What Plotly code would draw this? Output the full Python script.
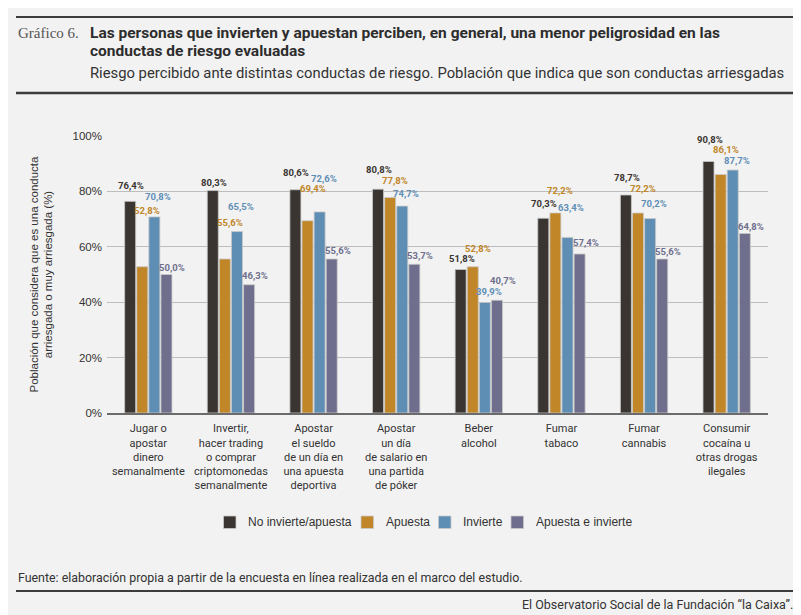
import plotly.graph_objects as go

# datos del gráfico
categorias = [
    "Jugar o<br>apostar<br>dinero<br>semanalmente",
    "Invertir,<br>hacer trading<br>o comprar<br>criptomonedas<br>semanalmente",
    "Apostar<br>el sueldo<br>de un día en<br>una apuesta<br>deportiva",
    "Apostar<br>un día<br>de salario en<br>una partida<br>de póker",
    "Beber<br>alcohol",
    "Fumar<br>tabaco",
    "Fumar<br>cannabis",
    "Consumir<br>cocaína u<br>otras drogas<br>ilegales",
]
series = ["No invierte/apuesta", "Apuesta", "Invierte", "Apuesta e invierte"]
no_invierte = [76.4, 80.3, 80.6, 80.8, 51.8, 70.3, 78.7, 90.8]
apuesta = [52.8, 55.6, 69.4, 77.8, 52.8, 72.2, 72.2, 86.1]
invierte = [70.8, 65.5, 72.6, 74.7, 39.9, 63.4, 70.2, 87.7]
apuesta_invierte = [50.0, 46.3, 55.6, 53.7, 40.7, 57.4, 55.6, 64.8]
valores = [no_invierte, apuesta, invierte, apuesta_invierte]
y_ticks = [0, 20, 40, 60, 80, 100]

colores = ["#3a3531", "#c08628", "#5f8eb5", "#6f6f8d"]

# altura de las etiquetas (escalonadas como en el original)
label_y = [
    [82.0, 83.1, 87.0, 88.0, 55.6, 75.7, 84.9, 98.9],
    [73.0, 68.6, 81.0, 83.9, 59.3, 80.3, 81.0, 95.2],
    [78.1, 74.5, 84.6, 79.3, 44.0, 74.1, 75.7, 91.1],
    [52.5, 49.8, 58.6, 57.0, 47.8, 61.5, 58.2, 67.5],
]

# la pagina deja 8px de margen en el body
OFF = 8
W, H = 801 - OFF, 615 - OFF
L, R, T, B = 107, 768, 136, 413  # area del grafico en px (coordenadas de la ventana)


def px(x):
    return (x - L) / (R - L)


def py(y):
    return (B - y) / (B - T)


COND = "Roboto, sans-serif"
SANS = "Liberation Sans, Arial, sans-serif"

fig = go.Figure()
for nombre, vals, col in zip(series, valores, colores):
    fig.add_trace(go.Bar(
        name=nombre, x=categorias, y=vals,
        marker=dict(color=col, line=dict(color="#c9c9c9", width=0.8)),
        hoverinfo="y+name", showlegend=False,
    ))

slot = 12.1
extra = [1, 5, 4, 6]
anns = []
for i, (vals, col) in enumerate(zip(valores, colores)):
    for j, v in enumerate(vals):
        anns.append(dict(
            x=categorias[j], y=label_y[i][j], xref="x", yref="y",
            text=f"{v:.1f}%".replace(".", ","), showarrow=False,
            xshift=(i - 1.5) * slot + extra[i], yanchor="middle",
            font=dict(family=COND, size=9.5, color=col, weight="bold"),
        ))

# eje y titulo
anns.append(dict(
    x=px(41), y=0.5, xref="paper", yref="paper", textangle=-90,
    xanchor="center", yanchor="middle",
    text="Población que considera que es una conducta<br>arriesgada o muy arriesgada (%)",
    showarrow=False, font=dict(family=SANS, size=11.5, color="#333333"),
))

# leyenda dibujada a mano (cuadro + texto)
leg_x = [223.5, 361, 438.5, 511]
shapes = []
for nombre, col, x0 in zip(series, colores, leg_x):
    shapes.append(dict(type="rect", xref="paper", yref="paper",
                       x0=px(x0), x1=px(x0 + 12.5), y0=py(528.5), y1=py(516),
                       fillcolor=col, line=dict(color="#c9c9c9", width=0.8)))
    anns.append(dict(x=px(x0 + 22.5), y=py(522), xref="paper", yref="paper",
                     xanchor="left", yanchor="middle", text=nombre, showarrow=False,
                     font=dict(family=SANS, size=12, color="#333333")))

# cabecera y pie
anns += [
    dict(x=px(16), y=py(33), xref="paper", yref="paper", xanchor="left", yanchor="middle",
         text="Gráfico 6.", showarrow=False,
         font=dict(family="Liberation Serif, serif", size=15, color="#555555")),
    dict(x=px(88), y=py(33), xref="paper", yref="paper", xanchor="left", yanchor="middle",
         text="<b>Las personas que invierten y apuestan perciben, en general, una menor peligrosidad en las</b>",
         showarrow=False, font=dict(family=COND, size=15.5, color="#2d2d2d")),
    dict(x=px(88), y=py(51), xref="paper", yref="paper", xanchor="left", yanchor="middle",
         text="<b>conductas de riesgo evaluadas</b>",
         showarrow=False, font=dict(family=COND, size=15.5, color="#2d2d2d")),
    dict(x=px(88), y=py(73), xref="paper", yref="paper", xanchor="left", yanchor="middle",
         text="Riesgo percibido ante distintas conductas de riesgo. Población que indica que son conductas arriesgadas",
         showarrow=False, font=dict(family=COND, size=14.8, color="#333333")),
    dict(x=px(16), y=py(577), xref="paper", yref="paper", xanchor="left", yanchor="middle",
         text="Fuente: elaboración propia a partir de la encuesta en línea realizada en el marco del estudio.",
         showarrow=False, font=dict(family=COND, size=12.4, color="#333333")),
    dict(x=px(795), y=py(604), xref="paper", yref="paper", xanchor="right", yanchor="middle",
         text="El Observatorio Social de la Fundación “la Caixa”.",
         showarrow=False, font=dict(family=COND, size=12.5, color="#333333")),
]

lineas = [(17, 2), (93, 2.5), (591, 2)]
shapes += [dict(type="line", xref="paper", yref="paper", x0=px(16), x1=px(795),
                y0=py(yy), y1=py(yy), line=dict(color="#3c3c3c", width=w))
           for yy, w in lineas]

fig.update_layout(
    width=W, height=H,
    margin=dict(l=L - OFF, r=801 - R, t=T - OFF, b=615 - B, autoexpand=False),
    paper_bgcolor="#f2f2f2", plot_bgcolor="#f2f2f2",
    barmode="group", bargap=0.414, bargroupgap=0.09,
    font=dict(family=SANS, size=12, color="#333333"),
    showlegend=False,
    annotations=anns, shapes=shapes,
)
fig.update_yaxes(range=[0, 100], tickvals=y_ticks, ticktext=[f"{t}%" for t in y_ticks],
                 showgrid=True, gridcolor="#bdbdbd", gridwidth=1, zeroline=False,
                 tickfont=dict(family=SANS, size=11.5, color="#333333"), ticks="",
                 ticklabelstandoff=4, fixedrange=True)
fig.update_xaxes(showline=True, linecolor="#6b6b6b", linewidth=2, ticks="",
                 tickfont=dict(family=COND, size=11, color="#333333"), tickangle=0,
                 ticklabelstandoff=4, fixedrange=True)

fig.write_html("out.html")
